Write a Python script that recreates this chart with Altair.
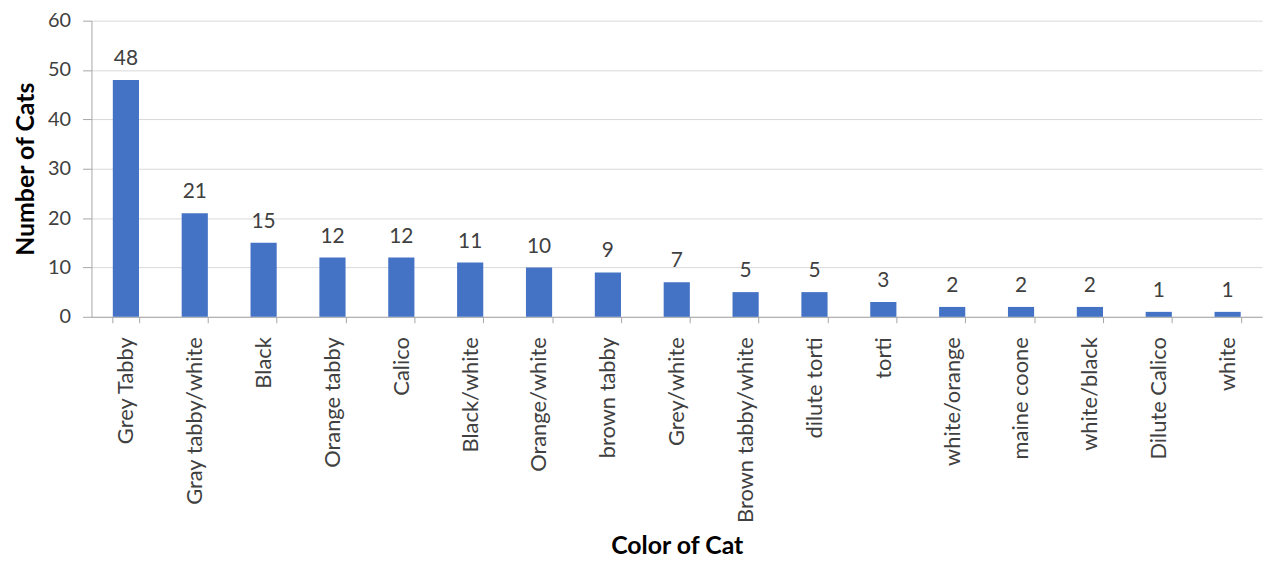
import altair as alt
import pandas as pd

categories = ["Grey Tabby", "Gray tabby/white", "Black", "Orange tabby", "Calico",
              "Black/white", "Orange/white", "brown tabby", "Grey/white",
              "Brown tabby/white", "dilute torti", "torti", "white/orange",
              "maine coone", "white/black", "Dilute Calico", "white"]
counts = [48, 21, 15, 12, 12, 11, 10, 9, 7, 5, 5, 3, 2, 2, 2, 1, 1]

df = pd.DataFrame({"cat": categories, "n": counts})

FONT = "Lato"
TXT = "#404040"

x = alt.X("cat:N", sort=categories, title="Color of Cat",
          scale=alt.Scale(paddingInner=0.62, paddingOuter=0.31),
          axis=alt.Axis(labelAngle=-90, labelFontSize=22, labelFont=FONT, labelColor=TXT,
                        labelPadding=14, tickBand="extent", tickSize=6, tickColor="#a6a6a6",
                        domainColor="#a6a6a6", titleFont=FONT, titleFontSize=25,
                        titleFontWeight="bold", titleColor="#000000", titlePadding=18,
                        labelLimit=300))
y = alt.Y("n:Q", title="Number of Cats",
          scale=alt.Scale(domain=[0, 60]),
          axis=alt.Axis(values=[0, 10, 20, 30, 40, 50, 60], labelFontSize=20, labelFont=FONT,
                        labelColor=TXT, labelPadding=12, tickSize=9, tickColor="#a6a6a6",
                        domainColor="#a6a6a6", gridColor="#d9d9d9", titleFont=FONT,
                        titleFontSize=25, titleFontWeight="bold", titleColor="#000000",
                        titlePadding=9))

bars = alt.Chart(df).mark_bar(color="#4472C4").encode(x=x, y=y)
labels = alt.Chart(df).mark_text(dy=-21, fontSize=21, font=FONT, color=TXT).encode(
    x=alt.X("cat:N", sort=categories), y="n:Q", text="n:Q")

chart = (bars + labels).properties(
    width=1178, height=298,
    padding={"left": 84, "top": 11, "right": 6, "bottom": 246},
    autosize=alt.AutoSizeParams(type="none"),
).configure_view(stroke=None)

chart.save("out.html", embed_options={"renderer": "svg", "actions": False})
